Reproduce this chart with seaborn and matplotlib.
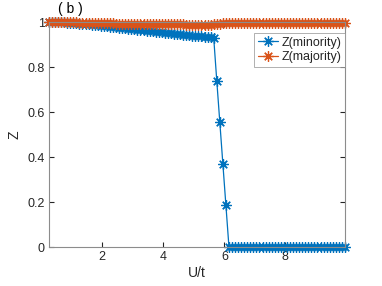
import numpy as np
import pandas as pd
import matplotlib
matplotlib.use('Agg')
import matplotlib.pyplot as plt
import seaborn as sns

# U/t grid
u_start, u_step, n_pts = 0.25, 0.1, 98
u_t = np.round(u_start + u_step * np.arange(n_pts), 2)

# Z(minority)
z_minority = (
    [1.000, 1.000, 0.999, 0.999, 0.998, 0.998, 0.997, 0.996,
     0.995, 0.994, 0.993, 0.992, 0.990, 0.989, 0.988, 0.987, 0.985, 0.984,
     0.982, 0.981, 0.979, 0.978, 0.976, 0.975, 0.973, 0.972, 0.970, 0.969,
     0.967, 0.966, 0.964, 0.963, 0.961, 0.960, 0.958, 0.957, 0.956, 0.954,
     0.953, 0.951, 0.950, 0.948, 0.947, 0.946, 0.944, 0.943, 0.941, 0.940,
     0.939, 0.937, 0.936, 0.935, 0.933, 0.932, 0.930,
     0.740, 0.555, 0.370, 0.185]
    + [0.0] * 39
)

# Z(majority)
z_majority = (
    [1.000, 1.000, 1.000, 0.999, 0.999, 0.999, 0.999, 0.998,
     0.998, 0.998, 0.997, 0.997, 0.997, 0.996, 0.996, 0.996, 0.995, 0.995,
     0.995, 0.994, 0.994, 0.994, 0.993, 0.993, 0.993, 0.993, 0.992, 0.992,
     0.992, 0.992, 0.991, 0.991, 0.991, 0.991, 0.990, 0.990, 0.990, 0.990,
     0.990, 0.989, 0.989, 0.989, 0.989, 0.989, 0.989, 0.988, 0.988, 0.988,
     0.988, 0.988, 0.988, 0.988, 0.988, 0.988, 0.989, 0.990, 0.992, 0.994]
    + [0.997] * 40
)

series_labels = ['Z(minority)', 'Z(majority)']
series_colors = ['#0072BD', '#D95319']
series_values = [z_minority, z_majority]

sns.set_style('white', rc={
    'xtick.direction': 'in', 'ytick.direction': 'in',
    'xtick.bottom': True, 'ytick.left': True,
    'xtick.top': True, 'ytick.right': True,
    'axes.edgecolor': '#8c8c8c', 'axes.linewidth': 0.6,
    'xtick.color': '#262626', 'ytick.color': '#262626',
    'xtick.major.size': 3, 'ytick.major.size': 3,
    'xtick.major.width': 0.6, 'ytick.major.width': 0.6,
})
plt.rcParams['font.family'] = ['Liberation Sans', 'DejaVu Sans']

fig = plt.figure(figsize=(3.82, 2.86), dpi=100)
ax = fig.add_axes([0.128, 0.136, 0.775, 0.787])

# MATLAB-style asterisk marker
asterisk = (8, 2, 0)
for label, color, vals in zip(series_labels, series_colors, series_values):
    sns.lineplot(x=u_t, y=vals, color=color, label=label,
                 marker=asterisk, markersize=7.5, markeredgewidth=0.9,
                 markeredgecolor=color, markerfacecolor=color,
                 linewidth=0.9, ax=ax, clip_on=False)

ax.set_xlim(u_t[0], u_t[-1])
ax.set_ylim(0, 1)
ax.set_xticks([2, 4, 6, 8])
ax.set_yticks([0, 0.2, 0.4, 0.6, 0.8, 1])
ax.set_yticklabels(['0', '0.2', '0.4', '0.6', '0.8', '1'])
ax.tick_params(labelsize=9, colors='#262626', labelcolor='#262626', pad=3)
for side in ['top', 'right']:
    ax.spines[side].set_visible(True)

ax.set_xlabel('U/t', fontsize=10, color='#262626', labelpad=2)
ax.set_ylabel('Z', fontsize=10, color='#262626', labelpad=4)

leg = ax.legend(loc='upper right', bbox_to_anchor=(1.0, 0.951), fontsize=9,
                frameon=True, fancybox=False, borderaxespad=0,
                handlelength=1.6, handletextpad=0.3, borderpad=0.3,
                labelspacing=0.2)
leg.get_frame().set_edgecolor('#8c8c8c')
leg.get_frame().set_linewidth(0.6)

fig.text(0.183, 0.968, '( b )', fontsize=10, ha='center', va='center', color='black')

fig.savefig('out.png', dpi=100)
